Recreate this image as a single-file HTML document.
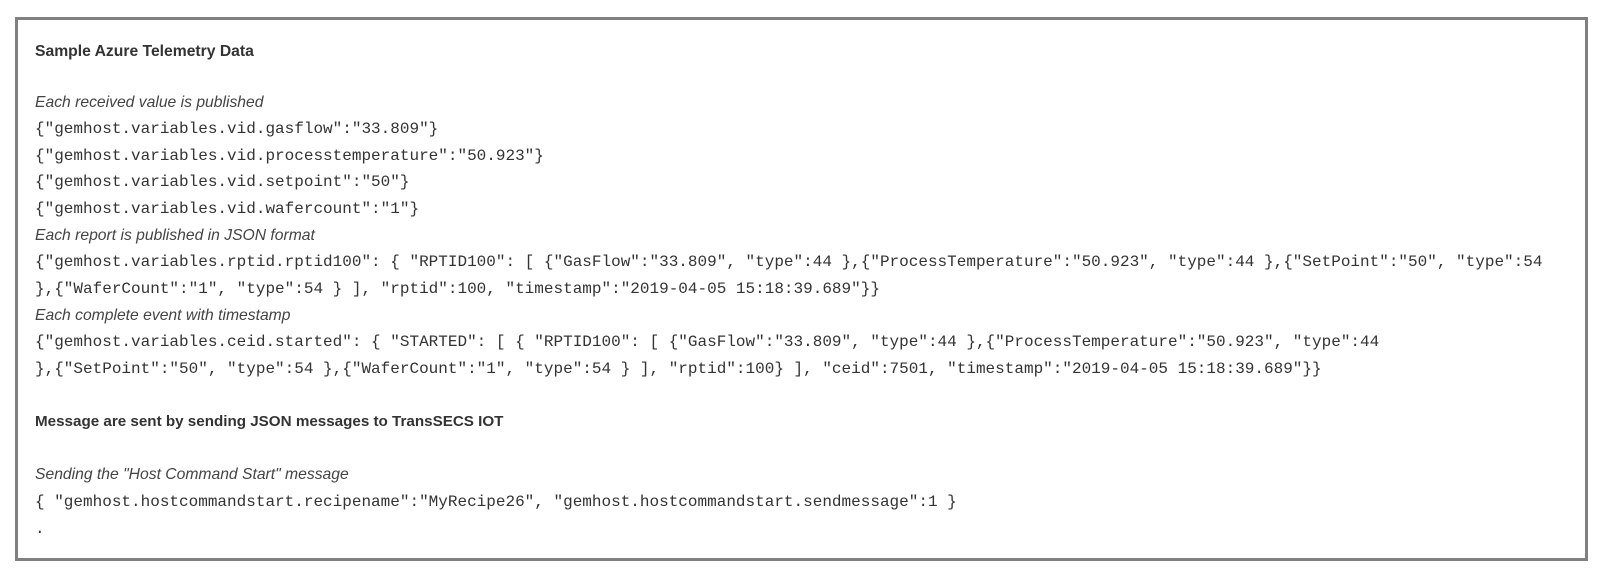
<!DOCTYPE html>
<html><head><meta charset="utf-8"><style>
html,body{margin:0;padding:0;background:#fff;width:1606px;height:570px;overflow:hidden}
.box{position:absolute;left:15px;top:17px;width:1567px;height:538px;border:3px solid #808080;box-sizing:content-box}
.l{position:absolute;left:35px;height:26px;line-height:26px;white-space:pre;color:#333}
.m{font-family:"Liberation Mono",monospace;font-size:16px}
.i{font-family:"Liberation Sans",sans-serif;font-style:italic;font-size:15.7px;color:#444}
.b{font-family:"Liberation Sans",sans-serif;font-weight:bold;font-size:15.2px;color:#333}
</style></head><body>
<div class="box"></div>
<div class="l b" style="top:39px;font-size:15.7px">Sample Azure Telemetry Data</div>
<div class="l i" style="top:90px">Each received value is published</div>
<div class="l m" style="top:116px">{"gemhost.variables.vid.gasflow":"33.809"}</div>
<div class="l m" style="top:143px">{"gemhost.variables.vid.processtemperature":"50.923"}</div>
<div class="l m" style="top:169px">{"gemhost.variables.vid.setpoint":"50"}</div>
<div class="l m" style="top:196px">{"gemhost.variables.vid.wafercount":"1"}</div>
<div class="l i" style="top:223px">Each report is published in JSON format</div>
<div class="l m" style="top:249px">{"gemhost.variables.rptid.rptid100": { "RPTID100": [ {"GasFlow":"33.809", "type":44 },{"ProcessTemperature":"50.923", "type":44 },{"SetPoint":"50", "type":54</div>
<div class="l m" style="top:276px">},{"WaferCount":"1", "type":54 } ], "rptid":100, "timestamp":"2019-04-05 15:18:39.689"}}</div>
<div class="l i" style="top:303px">Each complete event with timestamp</div>
<div class="l m" style="top:329px">{"gemhost.variables.ceid.started": { "STARTED": [ { "RPTID100": [ {"GasFlow":"33.809", "type":44 },{"ProcessTemperature":"50.923", "type":44</div>
<div class="l m" style="top:356px">},{"SetPoint":"50", "type":54 },{"WaferCount":"1", "type":54 } ], "rptid":100} ], "ceid":7501, "timestamp":"2019-04-05 15:18:39.689"}}</div>
<div class="l b" style="top:409px">Message are sent by sending JSON messages to TransSECS IOT</div>
<div class="l i" style="top:462px">Sending the "Host Command Start" message</div>
<div class="l m" style="top:489px">{ "gemhost.hostcommandstart.recipename":"MyRecipe26", "gemhost.hostcommandstart.sendmessage":1 }</div>
<div class="l m" style="top:516px">.</div>
</body></html>
